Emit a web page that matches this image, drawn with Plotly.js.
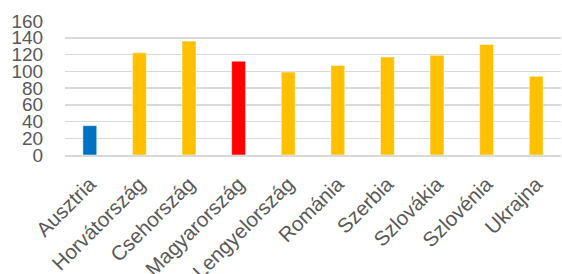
<!DOCTYPE html>
<html>
<head>
<meta charset="utf-8">
<script src="https://cdn.plot.ly/plotly-3.0.1.min.js"></script>
<style>html,body{margin:0;padding:0;background:#fff;}#chart{width:562px;height:274px;}</style>
</head>
<body>
<div id="chart"></div>
<script>
const categories = ["Ausztria","Horvátország","Csehország","Magyarország","Lengyelország","Románia","Szerbia","Szlovákia","Szlovénia","Ukrajna"];
const values = [35, 122, 136, 112, 99, 107, 117, 119, 132, 94];
const barColors = ["#0070C0","#FFC000","#FFC000","#FF0000","#FFC000","#FFC000","#FFC000","#FFC000","#FFC000","#FFC000"];
const yTicks = [0,20,40,60,80,100,120,140,160];

const trace = {
  type: "bar",
  x: categories,
  y: values,
  marker: {color: barColors, line: {color: "rgba(255,255,255,0.5)", width: 1}},
  hoverinfo: "x+y"
};
const layout = {
  width: 562, height: 274,
  margin: {l: 65, r: 1, t: 21, b: 119},
  paper_bgcolor: "#fff", plot_bgcolor: "#fff",
  bargap: 0.72,
  showlegend: false,
  font: {family: "Liberation Sans, Arial, sans-serif", color: "#595959", size: 19},
  xaxis: {
    tickangle: -45,
    tickfont: {size: 20.5, color: "#595959"},
    showgrid: false,
    showline: true, linecolor: "#d9d9d9", linewidth: 2,
    ticks: "outside", ticklen: 7, tickcolor: "rgba(0,0,0,0)",
    automargin: false
  },
  yaxis: {
    range: [0, 160],
    tickvals: yTicks,
    ticktext: yTicks.map(String),
    tickfont: {size: 19, color: "#595959"},
    showgrid: true, gridcolor: "#d9d9d9", gridwidth: 1.5,
    zeroline: false,
    showline: false,
    ticks: "outside", ticklen: 17, tickcolor: "rgba(0,0,0,0)",
    automargin: false
  }
};
Plotly.newPlot("chart", [trace], layout, {displayModeBar: false, staticPlot: true});
</script>
</body>
</html>
